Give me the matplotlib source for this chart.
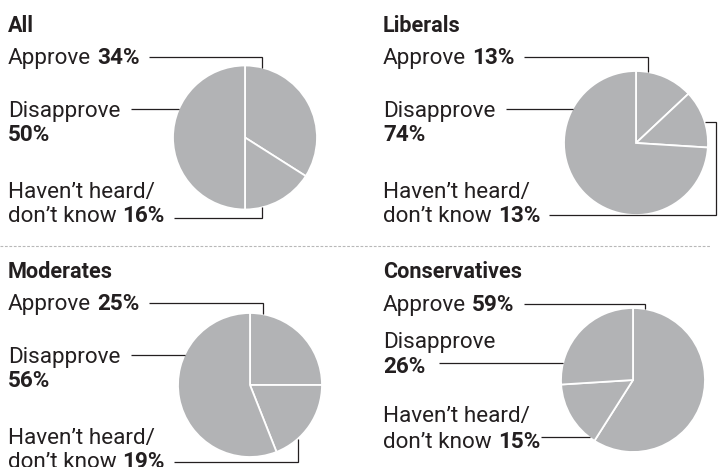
import matplotlib
matplotlib.use('Agg')
import matplotlib.pyplot as plt
import numpy as np

W, H = 721, 467

groups = ['All', 'Liberals', 'Moderates', 'Conservatives']
approve = [34, 13, 25, 59]
dont_know = [16, 13, 19, 15]
disapprove = [50, 74, 56, 26]

PIE = '#b2b3b5'
INK = '#231f20'
FS = 16.2      # body text, points
FS_T = 15.6    # panel titles

plt.rcParams['font.family'] = ['Roboto', 'DejaVu Sans']

fig = plt.figure(figsize=(W / 100, H / 100), dpi=100)
ax = fig.add_axes([0, 0, 1, 1])
r = fig.canvas.get_renderer()

# panel layout in pixels (y measured from the top)
text_x = [8, 383, 8, 383]
title_y = [32, 32, 278, 278]
centers = [(245, 137.5), (636, 143), (250, 385), (633, 380)]
R = 72


def Y(py):
    return H - py


def say(x, y, parts, size=FS):
    for i, (s, w) in enumerate(parts):
        if i:
            x += 6
        t = ax.text(x, Y(y), s, fontsize=size, fontweight=w, color=INK,
                    va='baseline', ha='left')
        bb = t.get_window_extent(renderer=r)
        x = ax.transData.inverted().transform((bb.x1, bb.y0))[0]
    return x


def edge_y(c, x, top=True):
    d = np.sqrt(R ** 2 - (x - c[0]) ** 2)
    return c[1] - d if top else c[1] + d


def edge_x(c, y, left=True):
    d = np.sqrt(R ** 2 - (y - c[1]) ** 2)
    return c[0] - d if left else c[0] + d


def leader(xs, ys):
    ax.plot(xs, [Y(v) for v in ys], color=INK, lw=0.9, solid_capstyle='butt',
            solid_joinstyle='miter')


for i in range(len(groups)):
    cx, cy = centers[i]
    ax.pie([approve[i], dont_know[i], disapprove[i]], colors=[PIE] * 3,
           startangle=90, counterclock=False, radius=R, center=(cx, Y(cy)),
           wedgeprops=dict(edgecolor='white', linewidth=1.3))

# pie() resets the limits, so fix the pixel frame before measuring text
ax.set_aspect('equal')
ax.set_xlim(0, W)
ax.set_ylim(0, H)
ax.axis('off')

for i, g in enumerate(groups):
    cx, cy = centers[i]
    x0, T = text_x[i], title_y[i]
    say(x0, T, [(g, 'bold')], FS_T)

    if g == 'Conservatives':
        ya, yd1, yd2, yh1, yh2 = T + 33, T + 70, T + 95, T + 144, T + 170
    else:
        ya, yd1, yd2, yh1, yh2 = T + 32, T + 85, T + 109, T + 166, T + 190

    # Approve
    e = say(x0, ya, [('Approve', 'normal'), ('%d%%' % approve[i], 'bold')])
    lx = cx + (17 if i == 0 else 12 if i != 2 else 13)
    leader([e + 9, lx, lx], [ya - 7, ya - 7, edge_y((cx, cy), lx)])

    # Disapprove
    e1 = say(x0, yd1, [('Disapprove', 'normal')])
    e2 = say(x0, yd2, [('%d%%' % disapprove[i], 'bold')])
    if g == 'Conservatives':
        ly = yd2 - 10
        leader([e2 + 14, edge_x((cx, cy), ly)], [ly, ly])
    else:
        ly = yd1 - 8
        leader([e1 + 11, edge_x((cx, cy), ly)], [ly, ly])

    # Haven't heard / don't know
    say(x0, yh1, [('Haven\u2019t heard/', 'normal')])
    e = say(x0, yh2, [('don\u2019t know', 'normal'), ('%d%%' % dont_know[i], 'bold')])
    if g == 'All':
        ly = yh2 - 4
        lx = cx + 17
        leader([e + 9, lx, lx], [ly, ly, edge_y((cx, cy), lx, top=False)])
    elif g == 'Liberals':
        ly = yh2 - 7
        uy = cy - 21
        leader([e + 9, 716, 716, edge_x((cx, cy), uy, left=False)], [ly, ly, uy, uy])
    elif g == 'Moderates':
        ly = yh2 - 6
        lx = cx + 48
        leader([e + 9, lx, lx], [ly, ly, edge_y((cx, cy), lx, top=False)])
    else:
        ly = yh2 - 11
        leader([e + 1, edge_x((cx, cy), ly) + 1], [ly, ly])

# dashed separator between the rows
ax.plot([0, 710], [Y(246), Y(246)], color='#b8b8b8', lw=0.8, dashes=(2.5, 1.5))

fig.savefig('out.png', dpi=100, facecolor='white')
